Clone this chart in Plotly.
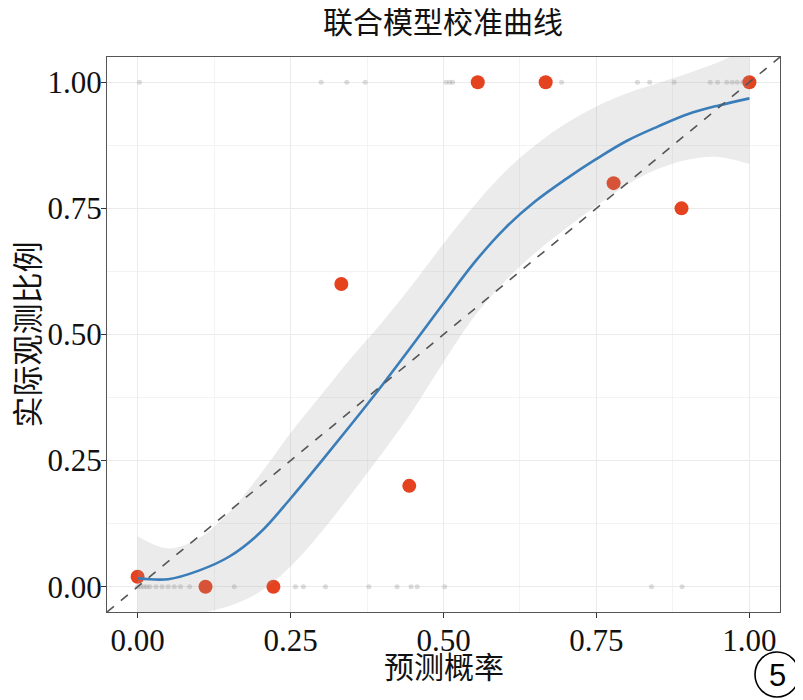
import plotly.graph_objects as go

# binned calibration points
bin_x = [0.0, 0.111, 0.222, 0.333, 0.444, 0.556, 0.667, 0.778, 0.889, 1.0]
bin_y = [0.02, 0.0, 0.0, 0.6, 0.2, 1.0, 1.0, 0.8, 0.75, 1.0]

# raw outcomes (rug along y=1 and y=0)
event_x = [0.003, 0.30, 0.342, 0.372, 0.504, 0.51, 0.515, 0.556, 0.667, 0.693,
           0.817, 0.837, 0.877, 0.936, 0.948, 0.963, 0.972, 0.98, 0.989, 0.995, 1.0]
nonevent_x = [0.0, 0.005, 0.01, 0.015, 0.02, 0.03, 0.04, 0.05, 0.06, 0.07, 0.085,
              0.111, 0.158, 0.222, 0.258, 0.271, 0.307, 0.378, 0.424, 0.447, 0.457,
              0.502, 0.84, 0.89]

# smoothed calibration curve with confidence band (read every 0.05)
smooth_x = [0.0, 0.05, 0.10, 0.15, 0.20, 0.25, 0.30, 0.35, 0.40, 0.45, 0.50,
            0.55, 0.60, 0.65, 0.70, 0.75, 0.80, 0.85, 0.90, 0.95, 1.0]
smooth_y = [0.017, 0.015, 0.032, 0.06, 0.107, 0.175, 0.248, 0.323, 0.40, 0.48, 0.562,
            0.642, 0.71, 0.764, 0.808, 0.848, 0.884, 0.912, 0.937, 0.954, 0.968]
smooth_lo = [-0.09, -0.072, -0.054, -0.038, -0.01, 0.04, 0.108, 0.185, 0.265, 0.35, 0.445,
             0.535, 0.605, 0.662, 0.71, 0.755, 0.797, 0.828, 0.847, 0.852, 0.838]
smooth_hi = [0.10, 0.076, 0.096, 0.148, 0.222, 0.305, 0.38, 0.455, 0.525, 0.60, 0.68,
             0.755, 0.822, 0.875, 0.918, 0.952, 0.978, 0.998, 1.018, 1.04, 1.07]

ticks = [0, 0.25, 0.5, 0.75, 1.0]
tick_text = ["0.00", "0.25", "0.50", "0.75", "1.00"]
axis_range = [-0.05, 1.05]

serif = "Liberation Serif, Times New Roman, serif"
cjk = "Noto Sans CJK SC, sans-serif"

fig = go.Figure()

# rug of observed outcomes
fig.add_trace(go.Scatter(
    x=event_x + nonevent_x,
    y=[1.0] * len(event_x) + [0.0] * len(nonevent_x),
    mode="markers",
    marker=dict(size=5, color="rgba(120,120,120,0.25)"),
    hoverinfo="skip"
))

# binned points
fig.add_trace(go.Scatter(
    x=bin_x, y=bin_y, mode="markers",
    marker=dict(size=14, color="#E5421F")
))

# confidence ribbon
fig.add_trace(go.Scatter(
    x=smooth_x, y=smooth_lo, mode="lines",
    line=dict(width=0, shape="spline"), hoverinfo="skip"
))
fig.add_trace(go.Scatter(
    x=smooth_x, y=smooth_hi, mode="lines",
    line=dict(width=0, shape="spline"), fill="tonexty",
    fillcolor="rgba(153,153,153,0.2)", hoverinfo="skip"
))

# smooth curve
fig.add_trace(go.Scatter(
    x=smooth_x, y=smooth_y, mode="lines",
    line=dict(color="#3A7DB8", width=2.6, shape="spline")
))

# ideal line
fig.add_trace(go.Scatter(
    x=axis_range, y=axis_range, mode="lines",
    line=dict(color="#555555", width=1.6, dash="dash"),
    hoverinfo="skip"
))

axis_style = dict(
    range=axis_range,
    tickvals=ticks,
    ticktext=tick_text,
    ticks="outside",
    ticklen=5,
    tickcolor="#333333",
    tickfont=dict(family=serif, size=31, color="#111111"),
    showline=True,
    linecolor="#555555",
    linewidth=1.2,
    mirror=True,
    showgrid=True,
    gridcolor="#EBEBEB",
    gridwidth=1.2,
    zeroline=False,
    minor=dict(dtick=0.125, tick0=0.125, showgrid=True, gridcolor="#F3F3F3", gridwidth=0.8),
)

fig.update_xaxes(**axis_style, ticklabelstandoff=-4)
fig.update_yaxes(**axis_style, ticklabelstandoff=-7)

# page body has an 8px margin, so the figure is 8px smaller than the window
fig.update_layout(
    width=795,
    height=692,
    margin=dict(l=99, r=23, t=49, b=88),
    plot_bgcolor="white",
    paper_bgcolor="white",
    showlegend=False,
    title=dict(
        text="联合模型校准曲线",
        font=dict(family=cjk, size=30, color="#111111"),
        x=(435 / 795), xanchor="center",
        y=1 - 14 / 692, yanchor="middle",
    ),
    annotations=[
        dict(text="预测概率", xref="paper", yref="paper",
             x=0.5, y=(612 - 665) / 555, xanchor="center", yanchor="middle",
             showarrow=False, font=dict(family=cjk, size=30, color="#111111")),
        dict(text="实际观测比例", xref="paper", yref="paper",
             x=(25 - 107) / 673, y=0.5, xanchor="center", yanchor="middle",
             textangle=-90, showarrow=False,
             font=dict(family=cjk, size=31, color="#111111")),
        dict(text="5", xref="paper", yref="paper",
             x=(777 - 107) / 673, y=(612 - 675) / 555, xanchor="center", yanchor="middle",
             showarrow=False, font=dict(family="Liberation Sans, Arial", size=31, color="black")),
    ],
    shapes=[
        dict(type="circle", xref="paper", yref="paper",
             x0=(755 - 107) / 673, x1=(799 - 107) / 673,
             y0=(612 - 697) / 555, y1=(612 - 652) / 555,
             line=dict(color="black", width=1.6)),
    ],
)

fig.write_html("out.html")
